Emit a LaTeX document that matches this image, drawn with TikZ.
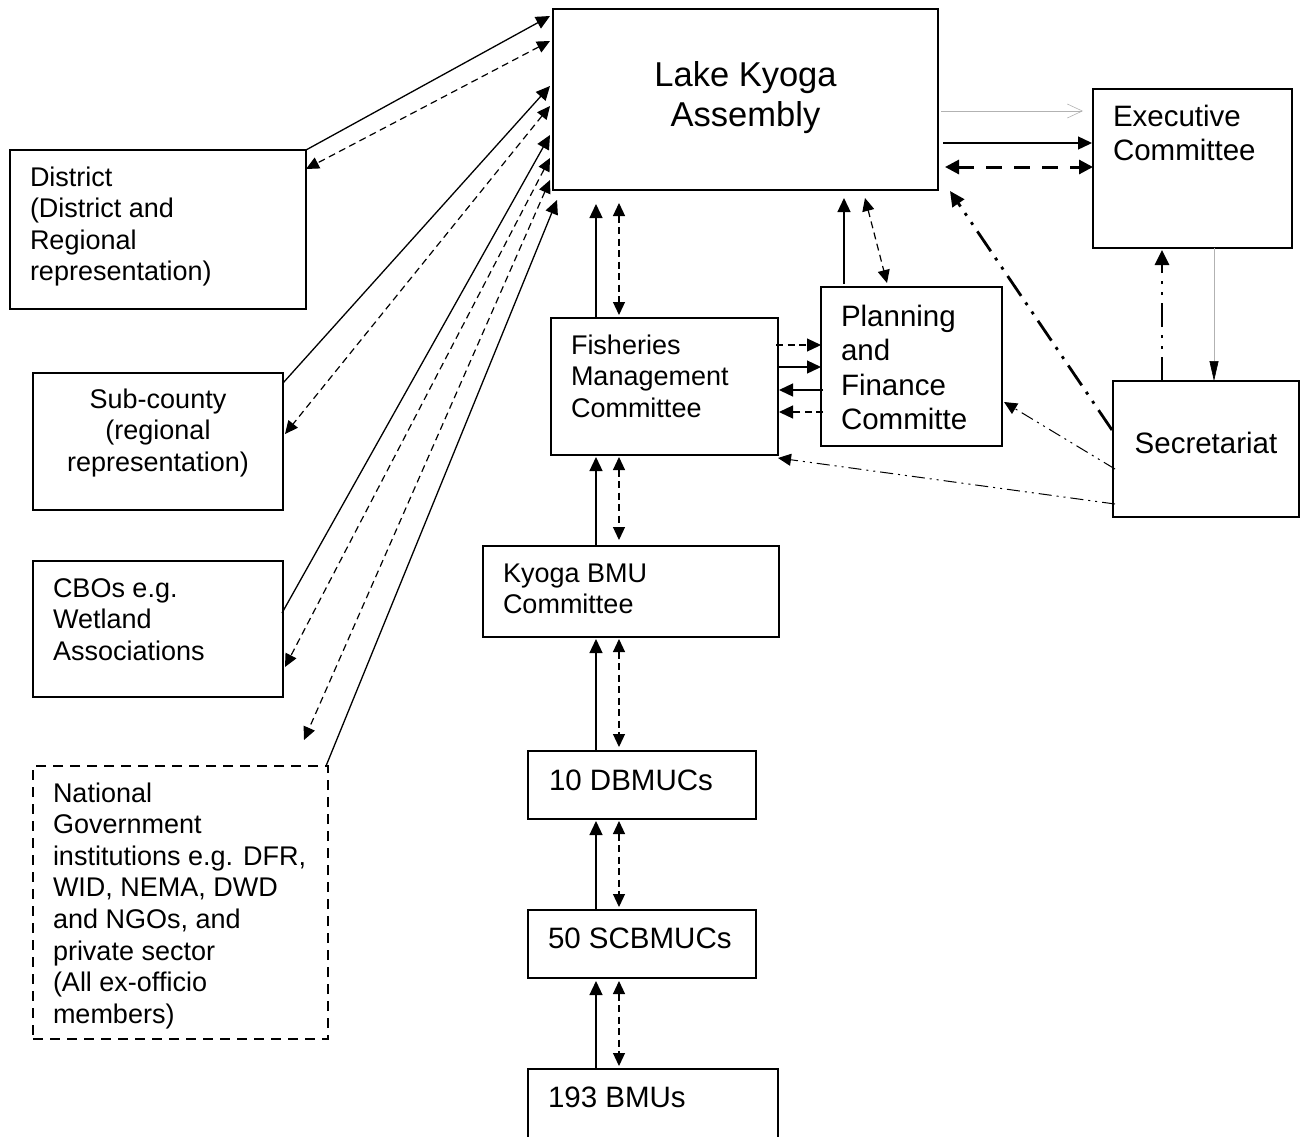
\documentclass[tikz,border=0pt]{standalone}
\usepackage{fontspec}
\setmainfont{Liberation Sans}
\usetikzlibrary{arrows.meta,calc}
\newcommand\ctrlines[1]{\vtop{\halign{\hfil##\hfil\cr#1\crcr}}}
\newcommand\lftlines[1]{\vtop{\halign{##\hfil\cr#1\crcr}}}
\begin{document}
\begin{tikzpicture}[x=1pt,y=-1pt,
  box/.style={draw,line width=1.5pt,inner sep=0pt,outer sep=0pt},
  dbox/.style={box,dash pattern=on 10pt off 7pt},
  txt/.style={inner sep=0pt,outer sep=0pt,anchor=base west},
  ctxt/.style={inner sep=0pt,outer sep=0pt,anchor=base},
  fs/.style={font=\fontsize{27}{31.6}\selectfont},
  fm/.style={font=\fontsize{29.5}{34.6}\selectfont},
  fl/.style={font=\fontsize{34.5}{40}\selectfont},
  tip/.style={-{Triangle[length=14pt,width=13pt]}},
  tips/.style={{Triangle[length=13pt,width=12pt]}-{Triangle[length=13pt,width=12pt]}},
  con/.style={line width=1.3pt},
  dsh/.style={line width=1.2pt,dash pattern=on 7pt off 4.5pt},
  gline/.style={draw=black!30,line width=0.6pt},
  thdash/.style={line width=3pt,dash pattern=on 16pt off 12pt,
     {Triangle[length=14pt,width=14pt]}-{Triangle[length=14pt,width=14pt]}},
  thdd/.style={line width=2.8pt,dash pattern=on 24pt off 8pt on 3pt off 8pt on 3pt off 8pt,
     -{Triangle[length=15pt,width=14pt]}},
  tndd/.style={line width=1pt,dash pattern=on 13pt off 5pt on 2pt off 5pt on 2pt off 5pt,
     -{Triangle[length=13pt,width=12pt]}}
]
\useasboundingbox (0,0) rectangle (1304,1136);

% boxes
\node[box,minimum width=385pt,minimum height=181pt] (lka) at (745.5,99.5) {};
\node[box,minimum width=199pt,minimum height=159pt] (exe) at (1192.5,168.5) {};
\node[box,minimum width=296pt,minimum height=159pt] (dis) at (158,229.5) {};
\node[box,minimum width=250pt,minimum height=137pt] (sub) at (158,441.5) {};
\node[box,minimum width=250pt,minimum height=136pt] (cbo) at (158,629) {};
\node[dbox,minimum width=295pt,minimum height=273pt] (nat) at (180.5,902.5) {};
\node[box,minimum width=227pt,minimum height=137pt] (fmc) at (664.5,386.5) {};
\node[box,minimum width=181pt,minimum height=159pt] (pfc) at (911.5,366.5) {};
\node[box,minimum width=186pt,minimum height=136pt] (sec) at (1206,449) {};
\node[box,minimum width=296pt,minimum height=91pt] (kbc) at (631,591.5) {};
\node[box,minimum width=228pt,minimum height=68pt] (dbm) at (642,785) {};
\node[box,minimum width=228pt,minimum height=68pt] (scb) at (642,944) {};
\node[box,minimum width=250pt,minimum height=71pt] (bmu) at (653,1104.5) {};

% texts
\node[ctxt,fl] (lkat) at (745.5,86) {\ctrlines{Lake Kyoga\cr Assembly}};
\node[txt,fm] (exet) at (1113,126) {\lftlines{Executive\cr Committee}};
\node[txt,fs] (dist) at (30,186) {\lftlines{District\cr (District and\cr Regional\cr representation)}};
\node[ctxt,fs] (subt) at (158,408) {\ctrlines{Sub-county\cr (regional\cr representation)}};
\node[txt,fs] (cbot) at (53,597) {\lftlines{CBOs e.g.\cr Wetland\cr Associations}};
\node[txt,fs] (natt) at (53,802) {\lftlines{National\cr Government\cr institutions e.g. DFR,\cr WID, NEMA, DWD\cr and NGOs, and\cr private sector\cr (All ex-officio\cr members)}};
\node[txt,fs] (fmct) at (571,354) {\lftlines{Fisheries\cr Management\cr Committee}};
\node[txt,fm] (pfct) at (841,326) {\lftlines{Planning\cr and\cr Finance\cr Committe}};
\node[ctxt,fm] (sect) at (1206,453) {Secretariat};
\node[txt,fs] (kbct) at (503,582) {\lftlines{Kyoga BMU\cr Committee}};
\node[txt,fm] (dbmt) at (549,790) {10 DBMUCs};
\node[txt,fm] (scbt) at (548,948) {50 SCBMUCs};
\node[txt,fm] (bmut) at (548,1107) {193 BMUs};

% free end of the national dashed connector
\coordinate (natd) at ($(nat.north east)+(-24,-26)$);

% left side connectors
\draw[con,tip] (dis.north east) -- ($(lka.north west)+(-3,7)$);
\draw[dsh,tips] ($(lka.north west)+(-3,32)$) -- ($(dis.north east)+(0,19)$);
\draw[con,tip] ($(sub.north east)+(0,10)$) -- ($(lka.north west)+(-3,77)$);
\draw[dsh,tips] ($(lka.north west)+(-3,97)$) -- ($(sub.north east)+(2,61)$);
\draw[con,tip] ($(cbo.north east)+(-1,52)$) -- ($(lka.north west)+(-3,126)$);
\draw[dsh,tips] ($(lka.north west)+(-3,149)$) -- ($(cbo.north east)+(2,106)$);
\draw[dsh,tips] ($(lka.north west)+(-3,171)$) -- (natd);
\draw[con,tip] ($(nat.north east)+(-2,0)$) -- ($(lka.south west)+(4,10)$);

% central column
\draw[con,tip] ($(fmc.north west)+(45,0)$) -- ($(lka.south west)+(43,14)$);
\draw[dsh,tips] ($(lka.south west)+(66,13)$) -- ($(fmc.north west)+(68,-3)$);
\draw[con,tip] ($(kbc.north west)+(113,0)$) -- ($(fmc.south west)+(45,2)$);
\draw[dsh,tips] ($(fmc.south west)+(68,2)$) -- ($(kbc.north west)+(136,-6)$);
\draw[con,tip] ($(dbm.north west)+(68,0)$) -- ($(kbc.south west)+(113,2)$);
\draw[dsh,tips] ($(kbc.south west)+(136,2)$) -- ($(dbm.north west)+(91,-4)$);
\draw[con,tip] ($(scb.north west)+(68,0)$) -- ($(dbm.south west)+(68,2)$);
\draw[dsh,tips] ($(dbm.south west)+(91,2)$) -- ($(scb.north west)+(91,-3)$);
\draw[con,tip] ($(bmu.north west)+(68,0)$) -- ($(scb.south west)+(68,3)$);
\draw[dsh,tips] ($(scb.south west)+(91,3)$) -- ($(bmu.north west)+(91,-3)$);

% planning and finance
\draw[con,tip] ($(pfc.north west)+(23,-3)$) -- ($(lka.south west)+(291,8)$);
\draw[dsh,tips] ($(lka.south west)+(312,8)$) -- ($(pfc.north west)+(66,-4)$);
\draw[dsh,tip] ($(fmc.north east)+(-2,27)$) -- ($(pfc.north west)+(0,58)$);
\draw[con,tip] ($(fmc.north east)+(0,49)$) -- ($(pfc.north west)+(0,80)$);
\draw[con,tip] ($(pfc.north west)+(2,103)$) -- ($(fmc.north east)+(1,72)$);
\draw[dsh,tip] ($(pfc.north west)+(2,125)$) -- ($(fmc.north east)+(1,94)$);

% executive committee
\draw[gline,-{Straight Barb[length=15pt,width=14pt,line width=0.6pt]}]
  ($(lka.north east)+(3,102)$) -- ($(exe.north west)+(-10,22)$);
\draw[con,tip] ($(lka.north east)+(5,134)$) -- ($(exe.north west)+(-1,54)$);
\draw[thdash] ($(lka.north east)+(7,158)$) -- ($(exe.north west)+(0,78)$);
\draw[gline,-{Triangle[length=20pt,width=9pt,color=black]}]
  ($(exe.south west)+(121,0)$) -- ($(sec.north west)+(101,0)$);

% secretariat
\draw[thdd] ($(sec.north west)+(49,0)$) -- ($(exe.south west)+(69,2)$);
\draw[thdd] ($(sec.north west)+(-1,49)$) -- ($(lka.south east)+(12,1)$);
\draw[tndd] ($(sec.north west)+(2,88)$) -- ($(pfc.north east)+(2,115)$);
\draw[tndd] ($(sec.north west)+(2,123)$) -- ($(fmc.south east)+(0,3)$);
\end{tikzpicture}
\end{document}
